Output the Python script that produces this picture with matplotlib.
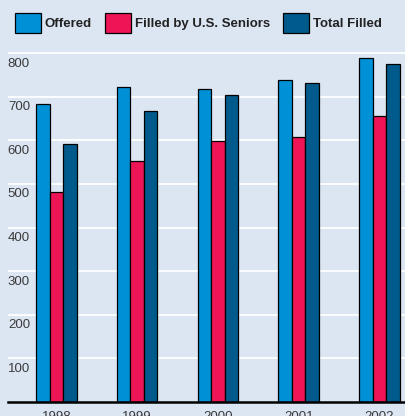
import numpy as np
import matplotlib
matplotlib.use("Agg")
import matplotlib.pyplot as plt
from matplotlib.transforms import blended_transform_factory

# data
years = ["1998", "1999", "2000", "2001", "2002"]
offered = [684, 722, 717, 738, 789]
seniors = [481, 552, 598, 607, 655]
total_filled = [591, 667, 705, 732, 776]
yticks = [100, 200, 300, 400, 500, 600, 700, 800]

series_names = ["Offered", "Filled by U.S. Seniors", "Total Filled"]
colors = ["#0090d6", "#ee1557", "#005a8c"]
bg = "#dce6f3"

plt.rcParams["font.family"] = ["Liberation Sans", "DejaVu Sans"]
fs = 9.5

W, H = 406, 416
fig = plt.figure(figsize=(W / 100, H / 100), dpi=100, facecolor=bg)

# axes placed in pixel terms; right edge runs past the figure (cropped like the source)
x0, x1 = -0.6, 4.6
px_per_group = 80.8
left_px = 56.3 + x0 * px_per_group
width_px = (x1 - x0) * px_per_group
y_per_px = 100 / 43.6
ytop = 830
bottom_px = H - 402
height_px = ytop / y_per_px
ax = fig.add_axes([left_px / W, bottom_px / H, width_px / W, height_px / H])
ax.set_facecolor(bg)
ax.set_xlim(x0, x1)
ax.set_ylim(0, ytop)

x = np.arange(len(years))
w = 0.167
for k, vals in enumerate([offered, seniors, total_filled]):
    ax.bar(x + (k - 1) * w, vals, w, color=colors[k], edgecolor="black",
           linewidth=0.9, label=series_names[k], zorder=3)

for t in yticks:
    ax.axhline(t, color="white", lw=1.3, zorder=1)

# value labels sit just under each gridline, flush left
trans = blended_transform_factory(ax.transAxes, ax.transData)
for t in yticks:
    ax.text(0.0, t - 10, str(t), transform=trans, ha="left", va="top",
            fontsize=fs, color="#3a3a3a", zorder=4)

for s in ["top", "right", "left"]:
    ax.spines[s].set_visible(False)
ax.spines["bottom"].set_linewidth(1.8)
ax.spines["bottom"].set_zorder(5)
ax.set_yticks([])
ax.set_xticks(x)
ax.set_xticklabels(years, fontsize=fs, color="#3a3a3a")
ax.tick_params(axis="x", length=0, pad=6.5)

fig.legend(loc="upper left", bbox_to_anchor=(15 / W, 1 - 12.5 / H), ncol=3,
           frameon=False, borderpad=0, borderaxespad=0, handlelength=2.0,
           handleheight=2.0, handletextpad=0.25, columnspacing=1.0,
           prop={"weight": "bold", "size": fs})
for t in fig.legends[0].get_texts():
    t.set_color("#222222")

fig.savefig("out.png", dpi=100, facecolor=bg)
